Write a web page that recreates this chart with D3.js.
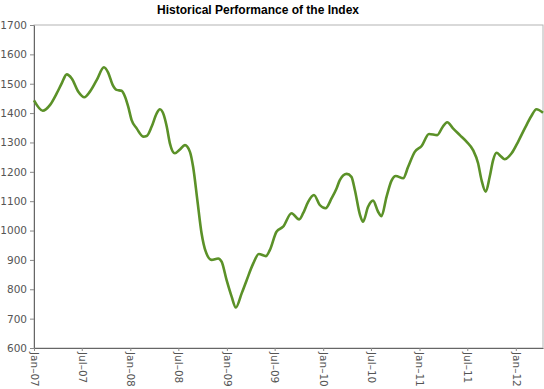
<!DOCTYPE html>
<html>
<head>
<meta charset="utf-8">
<script src="https://cdn.jsdelivr.net/npm/d3@7"></script>
<style>
  body { margin: 0; background: #fff; }
  svg { display: block; }
</style>
</head>
<body>
<svg id="chart"></svg>
<script>
const svgWidth = 544
const svgHeight = 389

const margin = { left: 34, right: 1, top: 25, bottom: 41 }
const width = svgWidth - margin.left - margin.right
const height = svgHeight - margin.top - margin.bottom

const title = 'Historical Performance of the Index'

// dates and index values
const dates = [
    '2007-01-01', '2007-02-03', '2007-03-03', '2007-03-28', '2007-04-16', '2007-05-05',
    '2007-05-24', '2007-06-18', '2007-07-11', '2007-08-01', '2007-08-27', '2007-09-23',
    '2007-10-09', '2007-10-26', '2007-11-10', '2007-11-29', '2007-12-12', '2007-12-24',
    '2008-01-06', '2008-01-25', '2008-02-19', '2008-03-03', '2008-03-22', '2008-04-10',
    '2008-04-22', '2008-05-07', '2008-05-18', '2008-05-30', '2008-06-18', '2008-07-07',
    '2008-07-26', '2008-08-14', '2008-08-26', '2008-09-11', '2008-09-27', '2008-10-13',
    '2008-11-04', '2008-11-29', '2008-12-12', '2008-12-31', '2009-01-19', '2009-02-04',
    '2009-02-26', '2009-03-17', '2009-04-11', '2009-05-02', '2009-05-29', '2009-06-13',
    '2009-07-08', '2009-08-02', '2009-09-03', '2009-10-02', '2009-10-17', '2009-11-05',
    '2009-11-27', '2009-12-19', '2010-01-10', '2010-02-02', '2010-02-21', '2010-03-05',
    '2010-03-31', '2010-04-18', '2010-05-01', '2010-05-20', '2010-06-01', '2010-06-20',
    '2010-07-09', '2010-07-28', '2010-08-10', '2010-08-29', '2010-09-17', '2010-10-03',
    '2010-10-31', '2010-11-19', '2010-12-14', '2011-01-09', '2011-02-06', '2011-03-09',
    '2011-03-29', '2011-04-16', '2011-05-08', '2011-06-03', '2011-06-28', '2011-07-23',
    '2011-08-11', '2011-08-24', '2011-09-09', '2011-09-24', '2011-10-07', '2011-10-20',
    '2011-11-04', '2011-11-20', '2011-12-16', '2012-01-10', '2012-02-04', '2012-02-29',
    '2012-03-19', '2012-04-13'
]
const values = [
    1443, 1408, 1428, 1467, 1501, 1532,
    1518, 1473, 1454, 1473, 1513, 1556,
    1538, 1496, 1479, 1476, 1456, 1422,
    1376, 1348, 1320, 1322, 1354, 1399,
    1413, 1393, 1354, 1297, 1263, 1276,
    1291, 1268, 1217, 1104, 991, 928,
    900, 905, 894, 831, 775, 738,
    786, 831, 888, 920, 913, 934,
    996, 1013, 1059, 1038, 1059, 1098,
    1121, 1087, 1076, 1110, 1144, 1172,
    1193, 1183, 1138, 1055, 1030, 1081,
    1102, 1064, 1049, 1115, 1170, 1186,
    1178, 1217, 1268, 1288, 1329, 1325,
    1352, 1369, 1348, 1325, 1303, 1274,
    1229, 1172, 1132, 1183, 1240, 1265,
    1254, 1243, 1263, 1303, 1348, 1390,
    1413, 1401
]

const yTicks = [600, 700, 800, 900, 1000, 1100, 1200, 1300, 1400, 1500, 1600, 1700]
const xTickLabels = ['Jan–07', 'Jul–07', 'Jan–08', 'Jul–08', 'Jan–09', 'Jul–09',
    'Jan–10', 'Jul–10', 'Jan–11', 'Jul–11', 'Jan–12']
const xTickDates = ['2007-01-01', '2007-07-01', '2008-01-01', '2008-07-01', '2009-01-01',
    '2009-07-01', '2010-01-01', '2010-07-01', '2011-01-01', '2011-07-01', '2012-01-01']

const parse = d3.timeParse('%Y-%m-%d')
const data = dates.map((d, i) => ({ date: parse(d), value: values[i] }))

const svg = d3.select('#chart')
    .attr('width', svgWidth)
    .attr('height', svgHeight)

svg.append('text')
    .attr('x', 258)
    .attr('y', 14)
    .attr('text-anchor', 'middle')
    .style('font-family', '"Liberation Sans", Arial, sans-serif')
    .style('font-size', '12px')
    .style('font-weight', 'bold')
    .text(title)

const chart = svg.append('g')
    .attr('transform', `translate(${[margin.left, margin.top]})`)

const x = d3.scaleTime()
    .domain([parse('2007-01-01'), parse('2012-04-13')])
    .range([0, width])

const y = d3.scaleLinear()
    .domain([600, 1700])
    .range([height, 0])

// frame
chart.append('rect')
    .attr('x', 0)
    .attr('y', 0)
    .attr('width', width)
    .attr('height', height)
    .attr('fill', 'none')
    .attr('stroke', '#b4b4b4')

const fontFamily = '"DejaVu Sans", Verdana, sans-serif'

const yAxis = chart.append('g')
    .call(
        d3.axisLeft(y)
            .tickValues(yTicks)
            .tickFormat(d3.format('d'))
            .tickSize(4)
            .tickPadding(3)
            .tickSizeOuter(0)
    )
yAxis.select('.domain').attr('stroke', '#666')
yAxis.selectAll('line').attr('stroke', '#888')
yAxis.selectAll('text')
    .attr('fill', '#555')
    .style('font-family', fontFamily)
    .style('font-size', '10.5px')

const xAxis = chart.append('g')
    .attr('transform', `translate(0, ${height})`)
    .call(
        d3.axisBottom(x)
            .tickValues(xTickDates.map(parse))
            .tickFormat((d, i) => xTickLabels[i])
            .tickSize(3)
            .tickSizeOuter(0)
    )
xAxis.select('.domain').attr('stroke', '#666')
xAxis.selectAll('line').attr('stroke', '#888')
xAxis.selectAll('text')
    .attr('fill', '#555')
    .style('font-family', fontFamily)
    .style('font-size', '10.5px')
    .attr('transform', 'rotate(90)')
    .attr('x', 4)
    .attr('y', 0)
    .attr('dy', '0.35em')
    .attr('text-anchor', 'start')

const line = d3.line()
    .x(d => x(d.date))
    .y(d => y(d.value))
    .curve(d3.curveMonotoneX)

chart.append('path')
    .datum(data)
    .attr('fill', 'none')
    .attr('stroke', '#5b9128')
    .attr('stroke-width', 2.6)
    .attr('stroke-linejoin', 'round')
    .attr('d', line)
</script>
</body>
</html>
